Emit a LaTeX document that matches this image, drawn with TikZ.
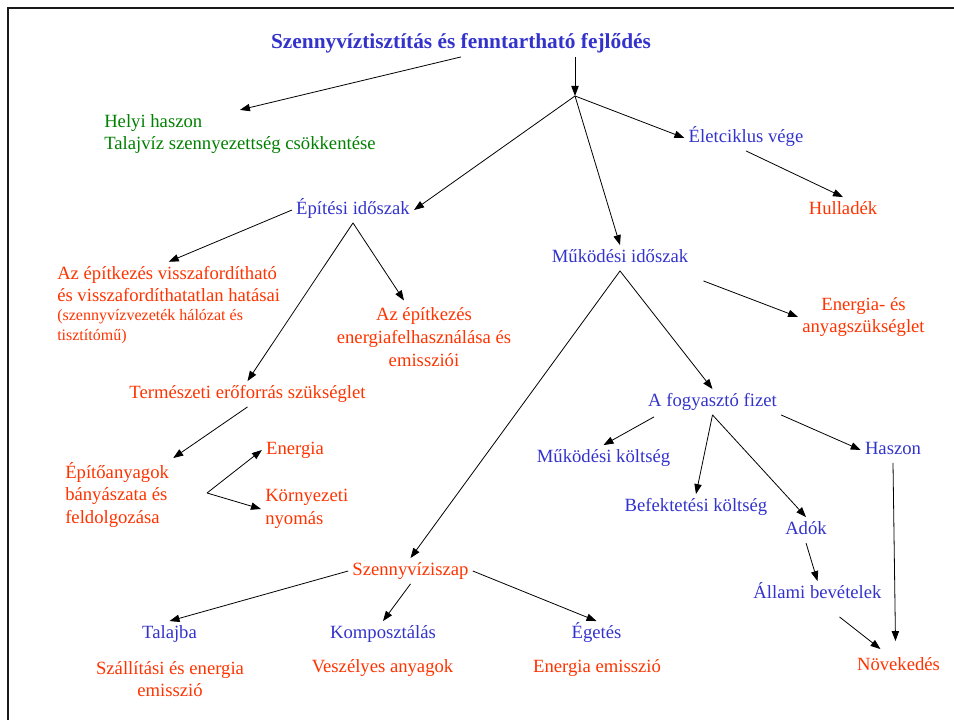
\documentclass[tikz,border=0pt]{standalone}
\usepackage{fontspec}
\setmainfont{Liberation Serif}
\usetikzlibrary{calc,arrows.meta}
\definecolor{kek}{RGB}{51,51,204}
\definecolor{piros}{RGB}{255,51,0}
\definecolor{zold}{RGB}{0,128,0}
\tikzset{
	cimke/.style={font=\fontsize{14}{17}\selectfont, inner sep=3pt},
	egysor/.style={cimke, text height=10pt, text depth=3pt},
	kekszoveg/.style={egysor, text=kek},
	pirosszoveg/.style={egysor, text=piros},
	nyil/.style={-{Triangle[length=7.5pt,width=5.5pt]}, line width=0.6pt}
}

\begin{document}
\begin{tikzpicture}[x=0.75pt, y=-0.75pt]
		%%%%% START %%%%%
		\useasboundingbox (0, 0) rectangle (954, 720);
		\draw[line width=1.6pt, black!90] (8, 730) -- (8, 8) -- (960, 8);
		
		\node[egysor, text=kek, font=\fontsize{16}{19}\selectfont\bfseries] (cim) at (461, 44) {Szennyvíztisztítás és fenntartható fejlődés};
		\node[cimke, text=zold, align=left, anchor=west] (helyi) at (100, 134) {Helyi haszon\\Talajvíz szennyezettség csökkentése};
		
		\node[kekszoveg] (eletciklus) at (746, 138) {Életciklus vége};
		\node[pirosszoveg] (hulladek) at (843, 210) {Hulladék};
		
		\node[kekszoveg] (epitesi) at (353, 210) {Építési időszak};
		\node[cimke, text=piros, align=left, anchor=west] (vissza) at (53, 284) {Az építkezés visszafordítható\\és visszafordíthatatlan hatásai};
		\node[cimke, text=piros, align=left, anchor=west, font=\fontsize{12}{15}\selectfont] (visszamegj) at (53, 327) {(szennyvízvezeték hálózat és\\tisztítómű)};
		\node[cimke, text=piros, align=center] (energiafelh) at (424, 337) {Az építkezés\\energiafelhasználása és\\emissziói};
		\node[pirosszoveg] (termeszeti) at (247.5, 394) {Természeti erőforrás szükséglet};
		\node[cimke, text=piros, align=left, anchor=west] (epitoanyag) at (61, 495) {Építőanyagok\\bányászata és\\feldolgozása};
		\node[pirosszoveg] (energia) at (295, 450) {Energia};
		\node[cimke, text=piros, align=left, anchor=west] (kornyezeti) at (261, 509) {Környezeti\\nyomás};
		\coordinate (elag) at (207, 493);
		
		\node[kekszoveg] (mukodesi) at (620, 258) {Működési időszak};
		\node[cimke, text=piros, align=center] (anyagszuk) at (863.5, 317) {Energia- és\\anyagszükséglet};
		\node[kekszoveg] (fogyaszto) at (712.5, 402) {A fogyasztó fizet};
		\node[kekszoveg] (mukkoltseg) at (603.5, 458) {Működési költség};
		\node[kekszoveg] (befektetesi) at (696, 507) {Befektetési költség};
		\node[kekszoveg] (ado) at (806, 530) {Adók};
		\node[kekszoveg] (allami) at (817.5, 594) {Állami bevételek};
		\node[kekszoveg] (haszon) at (893, 450) {Haszon};
		\node[pirosszoveg] (novekedes) at (898.5, 666) {Növekedés};
		
		\node[pirosszoveg] (iszap) at (410.5, 571) {Szennyvíziszap};
		\node[kekszoveg] (talajba) at (169.5, 634) {Talajba};
		\node[kekszoveg] (komposzt) at (383, 634) {Komposztálás};
		\node[kekszoveg] (egetes) at (596.5, 634) {Égetés};
		\node[cimke, text=piros, align=center] (szallitasi) at (170, 679) {Szállítási és energia\\emisszió};
		\node[pirosszoveg] (veszelyes) at (382.5, 668) {Veszélyes anyagok};
		\node[pirosszoveg] (energiaemisszio) at (597, 668) {Energia emisszió};
		
		\coordinate (csucs) at (575, 96);
		
		\draw[nyil] (cim.south) -- (helyi.north);
		\draw[nyil] (cim.south -| csucs) -- (csucs);
		\draw[nyil] (csucs) -- (epitesi.east);
		\draw[nyil] (csucs) -- (mukodesi.north);
		\draw[nyil] (csucs) -- (eletciklus.west);
		\draw[nyil] (eletciklus.south) -- (hulladek.north);
		
		\draw[nyil] (epitesi.west) -- (vissza.north);
		\draw[nyil] (epitesi.south) -- (termeszeti.north);
		\draw[nyil] (epitesi.south) -- ($(energiafelh.north)+(-20, -3)$);
		\draw[nyil] (termeszeti.south) -- (epitoanyag.north east);
		\draw[nyil] (elag) -- (energia.west);
		\draw[nyil] (elag) -- (kornyezeti.west);
		
		\draw[nyil] (mukodesi.south) -- (fogyaszto.north);
		\draw[nyil] (mukodesi.south) -- (iszap.north);
		\draw[nyil] ($(mukodesi.south east)+(11, 10)$) -- (anyagszuk.west);
		\draw[nyil] ($(fogyaszto.south west)+(10, 2)$) -- (mukkoltseg.north);
		\draw[nyil] (fogyaszto.south) -- (befektetesi.north);
		\draw[nyil] (fogyaszto.south) -- (ado.north);
		\draw[nyil] (fogyaszto.south east) -- (haszon.west);
		\draw[nyil] (haszon.south) -- ($(novekedes.north)+(-3, -12)$);
		\draw[nyil] (ado.south) -- (allami.north);
		\draw[nyil] ($(allami.south)+(22, 10)$) -- ($(novekedes.north)+(-18, -4)$);
		
		\draw[nyil] (iszap.west) -- (talajba.north);
		\draw[nyil] (iszap.south) -- (komposzt.north);
		\draw[nyil] (iszap.east) -- (egetes.north);
		%%%%% END %%%%%
\end{tikzpicture}
\end{document}
